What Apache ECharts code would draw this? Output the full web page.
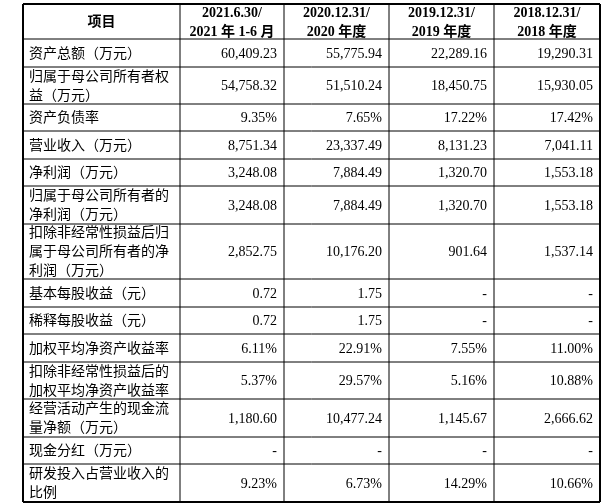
<!DOCTYPE html>
<html><head><meta charset="utf-8">
<script src="https://cdn.jsdelivr.net/npm/echarts@6/dist/echarts.min.js"></script>
<style>html,body{margin:0;background:#fff}#c{width:616px;height:504px}</style>
</head><body><div id="c"></div>
<script>
// 表头
const headers = ['项目', '2021.6.30/\n2021 年 1-6 月', '2020.12.31/\n2020 年度', '2019.12.31/\n2019 年度', '2018.12.31/\n2018 年度'];
// 项目
const items = [
  '资产总额（万元）', '归属于母公司所有者权\n益（万元）', '资产负债率', '营业收入（万元）', '净利润（万元）',
  '归属于母公司所有者的\n净利润（万元）', '扣除非经常性损益后归\n属于母公司所有者的净\n利润（万元）',
  '基本每股收益（元）', '稀释每股收益（元）', '加权平均净资产收益率',
  '扣除非经常性损益后的\n加权平均净资产收益率', '经营活动产生的现金流\n量净额（万元）', '现金分红（万元）',
  '研发投入占营业收入的\n比例'
];
const v2021 = ['60,409.23', '54,758.32', '9.35%', '8,751.34', '3,248.08', '3,248.08', '2,852.75', '0.72', '0.72', '6.11%', '5.37%', '1,180.60', '-', '9.23%'];
const v2020 = ['55,775.94', '51,510.24', '7.65%', '23,337.49', '7,884.49', '7,884.49', '10,176.20', '1.75', '1.75', '22.91%', '29.57%', '10,477.24', '-', '6.73%'];
const v2019 = ['22,289.16', '18,450.75', '17.22%', '8,131.23', '1,320.70', '1,320.70', '901.64', '-', '-', '7.55%', '5.16%', '1,145.67', '-', '14.29%'];
const v2018 = ['19,290.31', '15,930.05', '17.42%', '7,041.11', '1,553.18', '1,553.18', '1,537.14', '-', '-', '11.00%', '10.88%', '2,666.62', '-', '10.66%'];

// 版式
const colX = [23, 180, 284, 389, 494, 600];
const rowY = [4, 39, 67, 104, 131, 159, 186, 224, 279, 307, 334, 362, 399, 437, 464, 502];
const font = '"Liberation Serif","Noto Sans CJK SC",serif';

const cols = [v2021, v2020, v2019, v2018];
const els = [];
for (let r = 0; r < rowY.length - 1; r++) {
  const y0 = rowY[r], y1 = rowY[r + 1], cy = (y0 + y1) / 2;
  const header = r === 0;
  for (let c = 0; c < 5; c++) {
    const x0 = colX[c], x1 = colX[c + 1];
    let text, x, align;
    if (header) { text = headers[c]; x = (x0 + x1) / 2; align = 'center'; }
    else if (c === 0) { text = items[r - 1]; x = x0 + 6; align = 'left'; }
    else { text = cols[c - 1][r - 1]; x = x1 - 7; align = 'right'; }
    els.push({
      type: 'text', x: x, y: cy + 1,
      style: {
        text: text, align: align, verticalAlign: 'middle', fill: '#000',
        font: (header ? 'bold ' : '') + '14px ' + font, lineHeight: 19
      }
    });
  }
}
// 线
rowY.forEach((y, i) => els.push({ type: 'line', shape: { x1: colX[0], y1: y, x2: colX[5], y2: y },
  style: { stroke: '#000', lineWidth: (i === 0 || i === rowY.length - 1) ? 2 : 1 } }));
colX.forEach((x, i) => els.push({ type: 'line', shape: { x1: x, y1: rowY[0], x2: x, y2: rowY[rowY.length - 1] },
  style: { stroke: '#000', lineWidth: (i === 0 || i === colX.length - 1) ? 2 : 1 } }));

const chart = echarts.init(document.getElementById('c'));
chart.setOption({ animation: false, graphic: { elements: els } });
</script></body></html>
